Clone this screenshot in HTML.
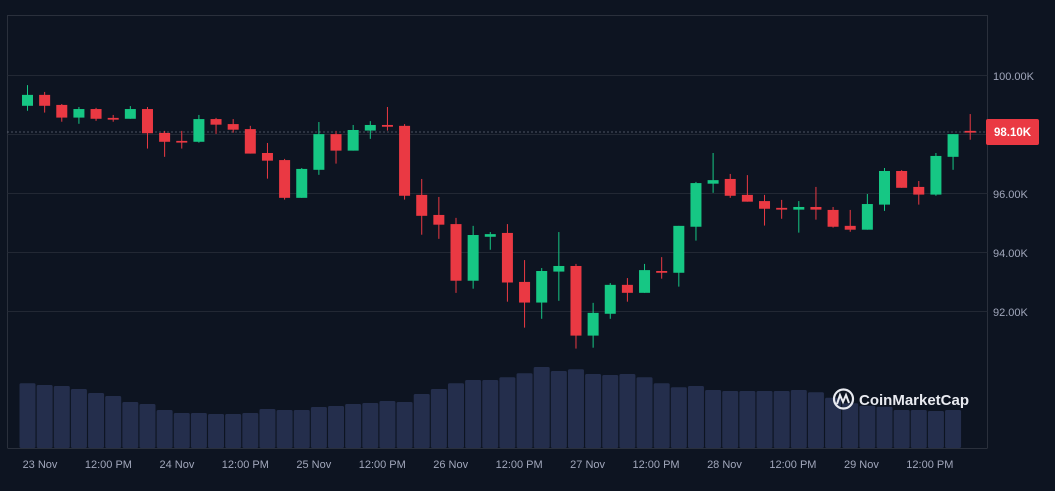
<!DOCTYPE html>
<html><head><meta charset="utf-8"><style>
html,body{margin:0;padding:0;background:#0d1421;}
svg{display:block;font-family:"Liberation Sans",Arial,sans-serif;}
</style></head><body>
<svg id="chart" width="1055" height="491" viewBox="0 0 1055 491" xmlns="http://www.w3.org/2000/svg">
<rect x="0" y="0" width="1055" height="491" fill="#0d1421"/>
<g id="grid"></g>
<g id="vol"></g>
<g id="candles"></g>
<g id="axes"></g>
</svg>
<script>
const opens  =[98.99,99.36,99.02,98.59,98.88,98.58,98.55,98.88,98.07,97.80,97.77,98.54,98.37,98.20,97.39,97.15,95.87,96.82,98.03,97.47,98.15,98.34,98.31,95.97,95.29,94.98,93.06,94.55,94.68,93.02,92.32,93.37,93.56,91.20,91.94,92.92,92.65,93.39,93.33,94.89,96.35,96.51,95.97,95.76,95.53,95.47,95.56,95.46,94.92,94.79,95.64,96.78,96.24,95.98,97.26,98.14];
const highs  =[99.69,99.46,99.05,98.95,98.92,98.68,98.98,98.95,98.14,98.14,98.68,98.58,98.54,98.31,97.73,97.19,96.88,98.44,98.14,98.34,98.47,98.95,98.37,96.51,95.90,95.19,94.92,94.71,94.98,93.76,93.49,94.71,93.63,92.31,92.98,93.15,93.63,93.86,94.92,96.41,97.39,96.68,96.64,95.97,95.80,95.76,96.24,95.56,95.46,96.00,96.88,96.81,96.44,97.39,98.03,98.71];
const lows   =[98.82,98.76,98.45,98.38,98.48,98.45,98.55,97.54,97.26,97.54,97.74,98.04,98.08,97.37,96.52,95.81,95.87,96.65,97.03,97.47,97.87,98.15,95.81,94.62,94.48,92.65,92.79,94.11,92.35,91.47,91.77,92.38,90.76,90.79,91.77,92.35,92.65,93.13,92.86,94.42,96.04,95.87,95.74,94.93,95.16,94.69,95.13,94.86,94.72,94.79,95.43,96.21,95.64,95.94,96.82,97.84];
const closes =[99.36,98.99,98.59,98.88,98.55,98.52,98.88,98.06,97.77,97.76,98.54,98.35,98.18,97.37,97.13,95.87,96.85,98.03,97.47,98.17,98.34,98.28,95.94,95.26,94.96,93.06,94.61,94.64,93.00,92.32,93.39,93.56,91.20,91.97,92.92,92.65,93.42,93.33,94.92,96.37,96.47,95.94,95.74,95.50,95.47,95.56,95.47,94.89,94.79,95.66,96.78,96.21,95.98,97.29,98.03,98.08];
const volumes=[64.7,63,62,59,55,52,46,44,38,35,35,34,34,35,39,38,38,41,42,44,45,47,46,54,59,64.7,68,68,70.7,74.7,81,77,78.7,74,73,74,70.7,64.7,60.7,62,58,57,57,57,57,58,55.7,50.3,44.7,42.3,41.3,38,38,37,38];
const yTicks=[100,98,96,94,92];
const yTickLabels=["100.00K","98.00K","96.00K","94.00K","92.00K"];
const xTickLabels=["23 Nov","12:00 PM","24 Nov","12:00 PM","25 Nov","12:00 PM","26 Nov","12:00 PM","27 Nov","12:00 PM","28 Nov","12:00 PM","29 Nov","12:00 PM"];
const lastPrice=98.10;
const lastPriceLabel="98.10K";

const NS="http://www.w3.org/2000/svg";
const L=7.5,R=987.5,T=15.5,B=448;
function y(p){return 76-(p-100)*29.5;}
function x(i){return 27.5+i*17.14;}
function vh(v){return v;}
function xt(k){return 40+k*68.45;}
function mk(tag,attrs,parent){const e=document.createElementNS(NS,tag);for(const k in attrs)e.setAttribute(k,attrs[k]);parent.appendChild(e);return e;}
const grid=document.getElementById('grid'),vol=document.getElementById('vol'),cg=document.getElementById('candles'),ax=document.getElementById('axes');

// frame
let f=mk('path',{d:`M${L},${B} L${L},${T} L${R},${T} L${R},${B}`,fill:'none',stroke:'#2a303c','stroke-width':1},grid);


f=mk('line',{x1:L,x2:R,y1:B+0.5,y2:B+0.5,stroke:'#2a303c','stroke-width':1},grid);


yTicks.forEach((t,i)=>{
  const g=mk('line',{x1:L,x2:R,y1:Math.round(y(t))-0.5,y2:Math.round(y(t))-0.5,stroke:'#222834','stroke-width':1},grid);
  
  
  const tx=mk('text',{x:993,y:y(t)+4,fill:'#a1a7bb','font-size':11},ax);
  tx.textContent=yTickLabels[i];
  
  
});
xTickLabels.forEach((s,k)=>{
  const tx=mk('text',{x:xt(k),y:468,fill:'#a1a7bb','font-size':11,'text-anchor':'middle'},ax);
  tx.textContent=s;
  
  
});
volumes.forEach((v,i)=>{
  const h=vh(v);
  const r=mk('rect',{x:x(i)-8,y:B-h,width:16,height:h,rx:1.5,fill:'#242e4c'},vol);
  
  
});
// logo
const lg=mk('g',{},vol);


mk('circle',{cx:843.5,cy:399,r:9.5,fill:'none',stroke:'#e8eaf0','stroke-width':2.2},lg);
mk('path',{d:'M837,404 L840,395 L843,402 L846,395 L849,403',fill:'none',stroke:'#e8eaf0','stroke-width':2},lg);
const lt=mk('text',{x:859,y:405,fill:'#e8eaf0','font-size':15,'font-weight':'bold'},lg);
lt.textContent='CoinMarketCap';
// last price dotted line
const dl=mk('line',{x1:L,x2:R,y1:y(lastPrice),y2:y(lastPrice),stroke:'#8a90a0','stroke-width':1,'stroke-dasharray':'1 3'},grid);


opens.forEach((o,i)=>{
  const c=closes[i],up=c>=o,col=up?'#16c784':'#ea3943';
  const g=mk('g',{},cg);
  
  
  mk('line',{x1:x(i),x2:x(i),y1:y(highs[i]),y2:y(lows[i]),stroke:col,'stroke-width':1},g);
  const top=y(Math.max(o,c)),bot=y(Math.min(o,c));
  mk('rect',{x:x(i)-5.5,y:top,width:11,height:Math.max(1.7,bot-top),fill:col},g);
});
const pb=mk('rect',{x:986,y:119,width:53,height:26,rx:2,fill:'#ea3943'},ax);


const pt=mk('text',{x:1012.5,y:136,fill:'#ffffff','font-size':11.5,'font-weight':'bold','text-anchor':'middle'},ax);
pt.textContent=lastPriceLabel;


</script>
</body></html>
